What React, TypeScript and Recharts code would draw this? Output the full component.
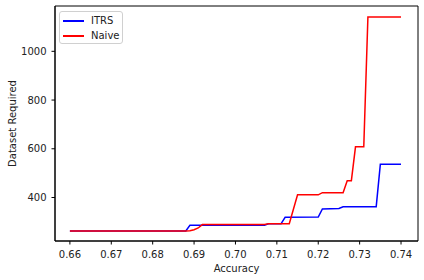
import { LineChart, Line, XAxis, YAxis, ReferenceArea } from "recharts";

// breakpoints (accuracy, samples required)
const itrsAcc = [0.66, 0.688, 0.689, 0.707, 0.708, 0.711, 0.712, 0.72, 0.721, 0.725, 0.726, 0.734, 0.735, 0.74];
const itrsReq = [263, 263, 286, 286, 292, 292, 319, 320, 353, 355, 362, 362, 536, 536];

const naiveAcc = [0.66, 0.688, 0.689, 0.69, 0.691, 0.692, 0.707, 0.708, 0.713, 0.715, 0.72, 0.721, 0.726, 0.727, 0.728, 0.729, 0.731, 0.732, 0.74];
const naiveReq = [263, 263, 264, 268, 275, 289, 289, 292, 292, 411, 411, 420, 420, 469, 469, 608, 608, 1141, 1141];

const xTicks = [0.66, 0.67, 0.68, 0.69, 0.7, 0.71, 0.72, 0.73, 0.74];
const yTicks = [400, 600, 800, 1000];

const itrs = itrsAcc.map((x, i) => ({ x, y: itrsReq[i] }));
const naive = naiveAcc.map((x, i) => ({ x, y: naiveReq[i] }));

const xMin = 0.6564;
const xMax = 0.7441;
const yMin = 221.5;
const yMax = 1186;

const font = "'DejaVu Sans', sans-serif";
const tickStyle = { fontSize: 10, fill: "#222", fontFamily: font };

const series = [
  { name: "ITRS", color: "#0000ff" },
  { name: "Naive", color: "#ff0000" },
];

function LegendBox() {
  return (
    <div
      style={{
        position: "absolute",
        left: 59,
        top: 11,
        boxSizing: "border-box",
        width: 64,
        height: 33,
        background: "rgba(255,255,255,0.8)",
        border: "1px solid #d0d0d0",
        borderRadius: 3,
        padding: "1px 0 0 3px",
        fontFamily: font,
        fontSize: 10,
        color: "#222",
      }}
    >
      {series.map((s) => (
        <div key={s.name} style={{ display: "flex", alignItems: "center", height: 15 }}>
          <div style={{ width: 21, height: 2, background: s.color, marginRight: 7 }} />
          <span>{s.name}</span>
        </div>
      ))}
    </div>
  );
}

export default function App() {
  return (
    <div style={{ position: "fixed", left: 0, top: 0, width: 424, height: 280, background: "#fff" }}>
      <LineChart width={424} height={280} margin={{ top: 6, right: 6, left: 0, bottom: 0 }}>
        <XAxis
          dataKey="x"
          type="number"
          domain={[xMin, xMax]}
          ticks={xTicks}
          allowDataOverflow
          tickFormatter={(v: number) => v.toFixed(2)}
          tick={tickStyle}
          tickSize={3.5}
          tickMargin={6}
          height={39}
          stroke="#000"
          label={{ value: "Accuracy", position: "insideBottom", offset: 8, style: { fontSize: 10, fill: "#222", fontFamily: font } }}
        />
        <YAxis
          dataKey="y"
          type="number"
          domain={[yMin, yMax]}
          ticks={yTicks}
          allowDataOverflow
          tick={tickStyle}
          tickSize={3.5}
          tickMargin={5}
          width={55}
          stroke="#000"
          label={{ value: "Dataset Required", angle: -90, position: "insideLeft", offset: 12, style: { fontSize: 10, fill: "#222", fontFamily: font, textAnchor: "middle" } }}
        />
        <ReferenceArea x1={xMin} x2={xMax} y1={yMin} y2={yMax} fill="none" stroke="#000" strokeWidth={1} />
        <Line data={itrs} dataKey="y" name="ITRS" stroke="#0000ff" strokeWidth={1.5} dot={false} type="linear" isAnimationActive={false} />
        <Line data={naive} dataKey="y" name="Naive" stroke="#ff0000" strokeWidth={1.5} dot={false} type="linear" isAnimationActive={false} />
      </LineChart>
      <LegendBox />
    </div>
  );
}
